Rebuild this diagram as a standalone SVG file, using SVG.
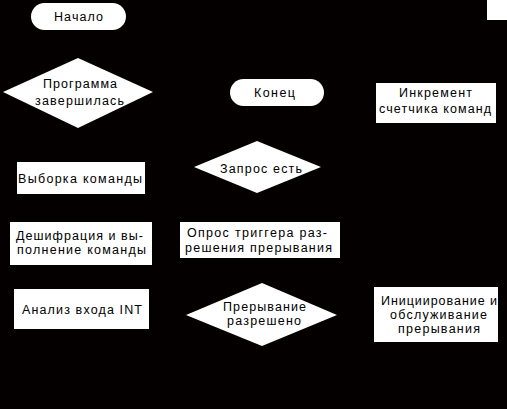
<svg xmlns="http://www.w3.org/2000/svg" width="507" height="409" viewBox="0 0 507 409">
<style>
.s{fill:#fff;stroke:none}
text{font-family:"Liberation Sans",Arial,sans-serif;font-size:12.5px;fill:#000}
</style>
<rect x="0" y="0" width="507" height="409" fill="#050000"/>
<rect class="s" x="487" y="0" width="20" height="20"/>
<g id="connectors"/>
<g id="start">
<rect class="s" x="31" y="3" width="95" height="27" rx="13.5"/>
<text x="54" y="21" textLength="49" lengthAdjust="spacing">Начало</text>
</g>
<g id="finished">
<polygon class="s" points="3,92 78,58 153,92 78,128"/>
<text x="43" y="88" textLength="74" lengthAdjust="spacing">Программа</text>
<text x="35" y="105" textLength="89" lengthAdjust="spacing">завершилась</text>
</g>
<g id="end">
<rect class="s" x="230" y="79" width="94" height="27" rx="13.5"/>
<text x="254" y="97" textLength="41" lengthAdjust="spacing">Конец</text>
</g>
<g id="increment">
<rect class="s" x="376" y="83" width="120" height="40"/>
<text x="399" y="97" textLength="73" lengthAdjust="spacing">Инкремент</text>
<text x="379" y="113" textLength="112" lengthAdjust="spacing">счетчика команд</text>
</g>
<g id="fetch">
<rect class="s" x="17" y="162" width="128" height="32"/>
<text x="18" y="183" textLength="124" lengthAdjust="spacing">Выборка команды</text>
</g>
<g id="request">
<polygon class="s" points="194,167 257,141 321,167 257,193"/>
<text x="220" y="173" textLength="82" lengthAdjust="spacing">Запрос есть</text>
</g>
<g id="decode">
<rect class="s" x="10" y="222" width="142" height="43"/>
<text x="16" y="240" textLength="127" lengthAdjust="spacing">Дешифрация и вы-</text>
<text x="17" y="254" textLength="129" lengthAdjust="spacing">полнение команды</text>
</g>
<g id="poll">
<rect class="s" x="180" y="222" width="160" height="36"/>
<text x="187" y="237" textLength="140" lengthAdjust="spacing">Опрос триггера раз-</text>
<text x="185" y="252" textLength="147" lengthAdjust="spacing">решения прерывания</text>
</g>
<g id="analyze">
<rect class="s" x="14" y="289" width="135" height="40"/>
<text x="22" y="314" textLength="120" lengthAdjust="spacing">Анализ входа INT</text>
</g>
<g id="enabled">
<polygon class="s" points="186,315 262,283 337,315 262,346"/>
<text x="223" y="311" textLength="83" lengthAdjust="spacing">Прерывание</text>
<text x="227" y="325" textLength="74" lengthAdjust="spacing">разрешено</text>
</g>
<g id="service">
<rect class="s" x="374" y="287" width="124" height="55"/>
<text x="381" y="305" textLength="116" lengthAdjust="spacing">Инициирование и</text>
<text x="390" y="319" textLength="97" lengthAdjust="spacing">обслуживание</text>
<text x="398" y="333" textLength="82" lengthAdjust="spacing">прерывания</text>
</g>
</svg>
